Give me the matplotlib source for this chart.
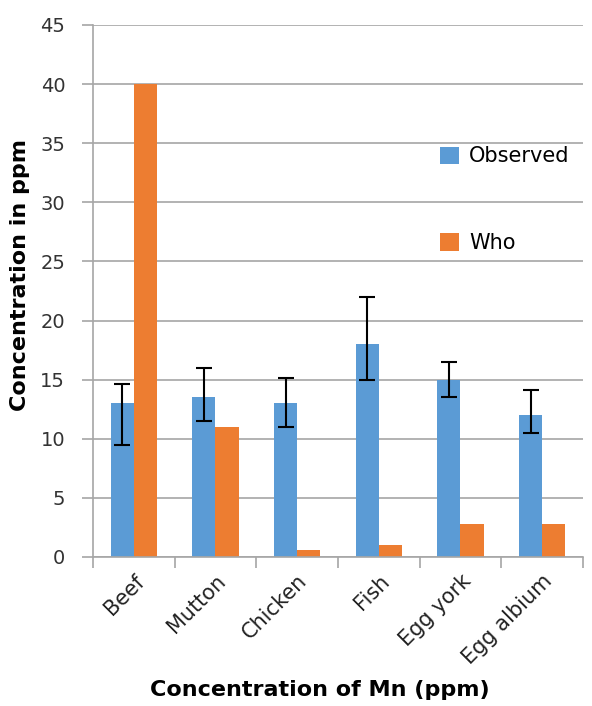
import numpy as np
import matplotlib
matplotlib.use("Agg")
import matplotlib.pyplot as plt

# === 数据 ===
categories = ["Beef", "Mutton", "Chicken", "Fish", "Egg york", "Egg albium"]
observed = [13.0, 13.5, 13.0, 18.0, 15.0, 12.0]
who = [40.0, 11.0, 0.6, 1.0, 2.8, 2.8]
err_low = [3.5, 2.0, 2.0, 3.0, 1.5, 1.5]
err_high = [1.6, 2.5, 2.1, 4.0, 1.5, 2.1]

blue = "#5B9BD5"
orange = "#ED7D31"
grid_c = "#a6a6a6"

fig = plt.figure(figsize=(5.92, 7.06), dpi=100)
ax = fig.add_axes([93 / 592, 149 / 706, 490 / 592, 532 / 706])

x = np.arange(len(categories))
w = 0.285
ax.bar(x - w / 2, observed, w, color=blue, label="Observed", zorder=2)
ax.bar(x + w / 2, who, w, color=orange, label="Who", zorder=2)
ax.errorbar(x - w / 2, observed, yerr=[err_low, err_high], fmt="none",
            ecolor="black", elinewidth=1.5, capsize=6, capthick=1.5, zorder=3)

ax.set_xlim(-0.5, len(categories) - 0.5)
ax.set_ylim(0, 45)
ax.set_yticks(np.arange(0, 46, 5))
ax.yaxis.grid(True, color=grid_c, linewidth=1.2, zorder=0)
ax.set_axisbelow(True)

for s in ["top", "right"]:
    ax.spines[s].set_visible(False)
for s in ["left", "bottom"]:
    ax.spines[s].set_color(grid_c)
    ax.spines[s].set_linewidth(1.2)

# 类别边界上的刻度
ax.set_xticks(np.arange(-0.5, len(categories), 1.0))
ax.set_xticklabels([])
ax.set_xticks(x, minor=True)
ax.set_xticklabels(categories, minor=True, rotation=45, ha="right",
                   rotation_mode="anchor", fontsize=15, color="#222222")
ax.tick_params(axis="x", which="major", length=8, color=grid_c, width=1.2)
ax.tick_params(axis="x", which="minor", length=0, pad=10)
ax.tick_params(axis="y", length=8, color=grid_c, width=1.2,
               labelsize=14, labelcolor="#333333", pad=12)

ax.set_ylabel("Concentration in ppm", fontsize=16, fontweight="bold")
ax.yaxis.set_label_coords(-0.128, 0.53)
fig.text(0.54, 1 - 690 / 706, "Concentration of Mn (ppm)", fontsize=16,
         fontweight="bold", ha="center", va="center")

ax.legend(loc="upper left", bbox_to_anchor=(0.67, 0.807), frameon=False,
          fontsize=15, handlelength=0.9, handleheight=0.9, handletextpad=0.5,
          labelspacing=3.2)

fig.savefig("out.png", dpi=100)
